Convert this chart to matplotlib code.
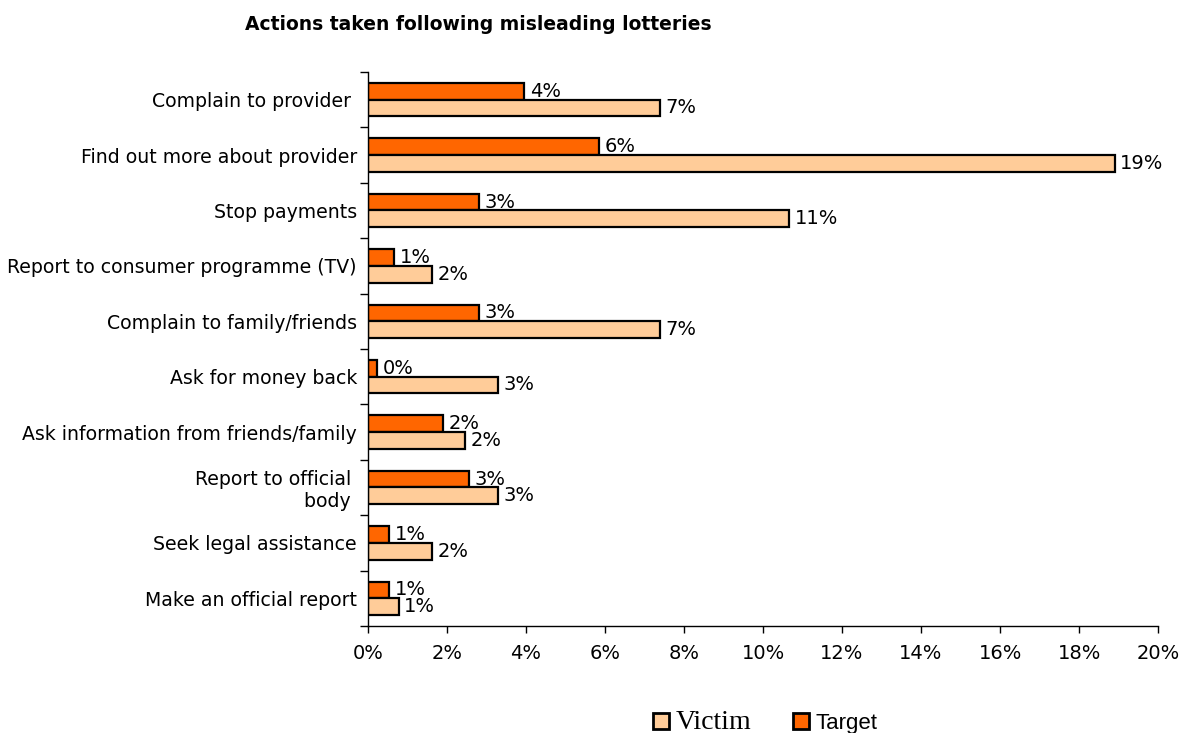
import numpy as np
import matplotlib
matplotlib.use('Agg')
import matplotlib.pyplot as plt
from matplotlib.patches import Patch
from matplotlib.ticker import FuncFormatter, FixedLocator

# Survey answers (percent of respondents)
actions = ['Complain to provider ', 'Find out more about provider', 'Stop payments',
           'Report to consumer programme (TV)', 'Complain to family/friends',
           'Ask for money back', 'Ask information from friends/family',
           'Report to official \nbody ', 'Seek legal assistance', 'Make an official report']
target = [3.95, 5.85, 2.81, 0.66, 2.81, 0.24, 1.91, 2.56, 0.53, 0.53]
victim = [7.39, 18.9, 10.66, 1.62, 7.39, 3.28, 2.46, 3.28, 1.62, 0.78]
xticks = list(range(0, 21, 2))

plt.rcParams['font.family'] = 'DejaVu Sans'

fig = plt.figure(figsize=(11.81, 7.33), dpi=100)
ax = fig.add_axes([0.3116, 0.146, 0.669, 0.7558])

y = np.arange(len(actions))
h = 0.3
bt = ax.barh(y - h / 2, target, height=h, color='#FF6600', edgecolor='black', linewidth=1.6, label='Target')
bv = ax.barh(y + h / 2, victim, height=h, color='#FFCC99', edgecolor='black', linewidth=1.6, label='Victim')

fmt = lambda v: f'{v:.0f}%'
ax.bar_label(bt, labels=[fmt(v) for v in target], padding=4, fontsize=14)
ax.bar_label(bv, labels=[fmt(v) for v in victim], padding=4, fontsize=14)

ax.set_ylim(len(actions) - 0.5, -0.5)
ax.set_xlim(0, 20)
ax.set_yticks(y)
ax.set_yticklabels(actions, fontsize=13.6)
ax.yaxis.set_minor_locator(FixedLocator(np.arange(-0.5, len(actions), 1)))
ax.tick_params(axis='y', which='major', length=0, pad=8)
ax.tick_params(axis='y', which='minor', length=6, width=1)

ax.set_xticks(xticks)
ax.xaxis.set_major_formatter(FuncFormatter(lambda v, p: f'{v:.0f}%'))
ax.tick_params(axis='x', length=5, width=1, pad=8, labelsize=14)

for s in ['top', 'right']:
    ax.spines[s].set_visible(False)
for s in ['left', 'bottom']:
    ax.spines[s].set_linewidth(1)

fig.text(0.4048, 0.967, 'Actions taken following misleading lotteries',
         fontsize=13.5, fontweight='bold', ha='center', va='center')

handles = [Patch(facecolor='#FFCC99', edgecolor='black', linewidth=2),
           Patch(facecolor='#FF6600', edgecolor='black', linewidth=2)]
leg = fig.legend(handles, ['Victim', 'Target'], loc='center', bbox_to_anchor=(0.648, 0.015),
                 ncol=2, frameon=False, fontsize=16, handlelength=0.72, handleheight=0.72,
                 handletextpad=0.3, columnspacing=1.9)
leg.get_texts()[0].set_fontfamily('Liberation Serif')
leg.get_texts()[0].set_fontsize(20)
leg.get_texts()[1].set_fontfamily('Liberation Sans')
leg.get_texts()[1].set_fontsize(16)

fig.savefig('out.png', dpi=100)
